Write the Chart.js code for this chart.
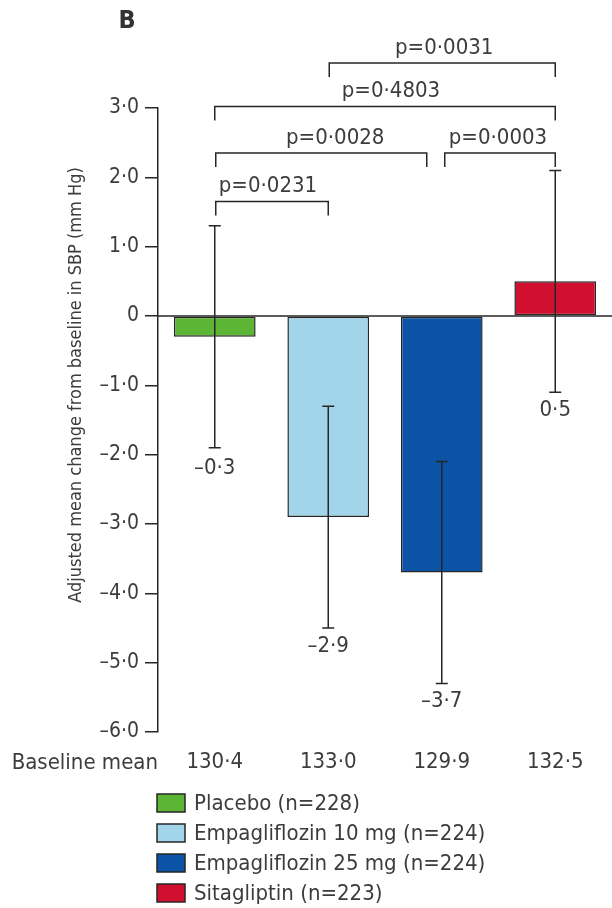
<!DOCTYPE html>
<html>
<head>
<meta charset="utf-8">
<script src="https://cdn.jsdelivr.net/npm/chart.js@4.4.1/dist/chart.umd.min.js"></script>
<style>
  html, body { margin: 0; padding: 0; background: #fff; }
  canvas { display: block; }
</style>
</head>
<body>
<canvas id="graphSbp" width="612" height="908" style="width:612px;height:908px"></canvas>
<script>
/* donnees */
var groups = ['Placebo (n=228)', 'Empagliflozin 10 mg (n=224)', 'Empagliflozin 25 mg (n=224)', 'Sitagliptin (n=223)']
var meanChange = [-0.3, -2.9, -3.7, 0.5]
var ciLow = [-1.9, -4.5, -5.3, -1.1]
var ciHigh = [1.3, -1.3, -2.1, 2.1]
var valueLabels = ['\u20130\u00b73', '\u20132\u00b79', '\u20133\u00b77', '0\u00b75']
var baselineMean = ['130\u00b74', '133\u00b70', '129\u00b79', '132\u00b75']
var yTicks = [3, 2, 1, 0, -1, -2, -3, -4, -5, -6]
var pairs = [[0, 1], [0, 2], [2, 3], [0, 3], [1, 3]]
var pValues = ['p=0\u00b70231', 'p=0\u00b70028', 'p=0\u00b70003', 'p=0\u00b74803', 'p=0\u00b70031']

var barColors = ['#5db536', '#a3d5ea', '#0b53a4', '#d0102e']
var ink = '#262626'
var textColor = '#3c3c3c'
var fontFamily = '"Liberation Sans Narrow", "DejaVu Sans Condensed", "Liberation Sans", sans-serif'

// niveaux des crochets (unites de l'axe y) et petits decalages en px
var bracketLevel = [1.65, 2.35, 2.35, 3.02, 3.65]
var bracketNudge = [[1, 0], [1, -15], [3, 0], [0, 0], [1, 0]]
var textNudge = [-4, 14, -2, 6, 2]

function fmtTick(v) {
  if (v === 0) return '0'
  return (v < 0 ? '\u2013' : '') + Math.abs(v).toFixed(1).replace('.', '\u00b7')
}

var overlay = {
  id: 'overlay',
  afterDatasetsDraw: function (chart) {
    var ctx = chart.ctx
    var area = chart.chartArea
    var x = chart.scales.x
    var y = chart.scales.y
    ctx.save()
    ctx.strokeStyle = ink
    ctx.lineWidth = 1.5

    // ligne du zero
    var y0 = y.getPixelForValue(0)
    ctx.beginPath()
    ctx.moveTo(area.left, y0)
    ctx.lineTo(area.right, y0)
    ctx.stroke()

    // barres d'erreur + valeurs
    ctx.fillStyle = textColor
    ctx.font = '22px ' + fontFamily
    ctx.textAlign = 'center'
    ctx.textBaseline = 'top'
    for (var i = 0; i < meanChange.length; i++) {
      var cx = x.getPixelForValue(i)
      var yt = y.getPixelForValue(ciHigh[i])
      var yb = y.getPixelForValue(ciLow[i])
      ctx.beginPath()
      ctx.moveTo(cx, yt); ctx.lineTo(cx, yb)
      ctx.moveTo(cx - 6, yt); ctx.lineTo(cx + 6, yt)
      ctx.moveTo(cx - 6, yb); ctx.lineTo(cx + 6, yb)
      ctx.stroke()
      ctx.fillText(valueLabels[i], cx, yb + (i === 0 ? 10 : 7))
    }

    // crochets p
    ctx.textBaseline = 'bottom'
    for (var k = 0; k < pairs.length; k++) {
      var yl = y.getPixelForValue(bracketLevel[k])
      var x1 = x.getPixelForValue(pairs[k][0]) + bracketNudge[k][0]
      var x2 = x.getPixelForValue(pairs[k][1]) + bracketNudge[k][1]
      ctx.beginPath()
      ctx.moveTo(x1, yl + 14)
      ctx.lineTo(x1, yl)
      ctx.lineTo(x2, yl)
      ctx.lineTo(x2, yl + 14)
      ctx.stroke()
      ctx.fillText(pValues[k], (x1 + x2) / 2 + textNudge[k], yl - 4)
    }

    // lettre du panneau
    ctx.font = 'bold 25px ' + fontFamily
    ctx.textBaseline = 'middle'
    ctx.fillStyle = '#333'
    ctx.fillText('B', 127, 21)

    // titre de l'axe y
    ctx.save()
    ctx.translate(76, 385)
    ctx.rotate(-Math.PI / 2)
    ctx.font = '18px ' + fontFamily
    ctx.fillStyle = textColor
    ctx.fillText('Adjusted mean change from baseline in SBP (mm Hg)', 0, 0)
    ctx.restore()

    // libelle de la ligne des moyennes
    ctx.font = '22px ' + fontFamily
    ctx.fillStyle = textColor
    ctx.textAlign = 'right'
    ctx.textBaseline = 'alphabetic'
    ctx.fillText('Baseline mean', 158, 769)

    // legende
    ctx.textAlign = 'left'
    ctx.textBaseline = 'middle'
    for (var j = 0; j < groups.length; j++) {
      var ly = 794 + j * 30
      ctx.fillStyle = barColors[j]
      ctx.fillRect(157, ly, 28, 18)
      ctx.strokeRect(157, ly, 28, 18)
      ctx.fillStyle = textColor
      ctx.fillText(groups[j], 194, ly + 10)
    }
    ctx.restore()
  }
}

var ctx_sbp = document.getElementById('graphSbp').getContext('2d')

var data_sbp = {
  labels: groups,
  datasets: [{
    data: meanChange,
    backgroundColor: barColors,
    borderColor: ink,
    borderWidth: 1.5,
    borderSkipped: false,
    barPercentage: 0.72,
    categoryPercentage: 1
  }]
}

var config_sbp = {
  type: 'bar',
  data: data_sbp,
  options: {
    responsive: false,
    animation: false,
    layout: { padding: { top: 108, left: 2, right: 0, bottom: 126 } },
    plugins: {
      legend: { display: false },
      tooltip: { enabled: false }
    },
    scales: {
      x: {
        grid: { display: false, drawTicks: false },
        border: { display: false },
        ticks: {
          color: textColor,
          font: { size: 22, family: fontFamily },
          padding: 17,
          callback: function (v, i) { return baselineMean[i] }
        },
        afterFit: function (s) { s.height = 50 }
      },
      y: {
        min: -6,
        max: 3,
        afterBuildTicks: function (s) { s.ticks = yTicks.map(function (v) { return { value: v } }) },
        ticks: {
          color: textColor,
          font: { size: 21, family: fontFamily },
          padding: 6,
          callback: fmtTick
        },
        grid: { drawOnChartArea: false, drawTicks: true, tickLength: 13, color: ink, lineWidth: 1.5 },
        border: { display: true, color: ink, width: 1.5 },
        afterFit: function (s) { s.width = 156 }
      }
    }
  },
  plugins: [overlay]
}

var graph_sbp = new Chart(ctx_sbp, config_sbp)
</script>
</body>
</html>
